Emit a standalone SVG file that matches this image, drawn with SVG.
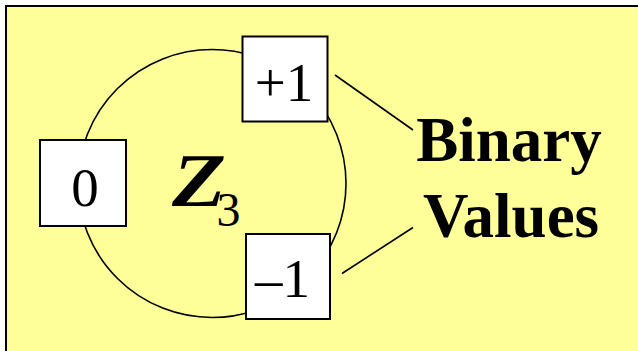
<svg xmlns="http://www.w3.org/2000/svg" width="638" height="351" viewBox="0 0 638 351">
<style>
.box{fill:#ffffff;stroke:#000000;stroke-width:2}
.conn{fill:none;stroke:#000000;stroke-width:1.6}
.num{font-family:"Liberation Serif","Times New Roman",serif;font-size:55px;fill:#000000;text-anchor:middle}
.lbl{font-family:"Liberation Serif","Times New Roman",serif;font-size:63px;font-weight:bold;fill:#000000;text-anchor:middle}
</style>
<rect x="0" y="0" width="638" height="351" fill="#ffffff"/>
<rect id="panel" x="6" y="6" width="640" height="360" fill="#ffff99" stroke="#000000" stroke-width="2"/>
<g id="connectors">
<circle class="conn" cx="212" cy="183.5" r="134"/>
<line class="conn" x1="335" y1="75" x2="413" y2="130"/>
<line class="conn" x1="342" y1="273.5" x2="413" y2="227.5"/>
</g>
<g id="node-zero">
<rect class="box" x="40" y="140" width="86" height="86"/>
<text class="num" x="85" y="206">0</text>
</g>
<g id="node-plus-one">
<rect class="box" x="242.5" y="36.5" width="85" height="85"/>
<text class="num" x="284" y="101">+1</text>
</g>
<g id="node-minus-one">
<rect class="box" x="246" y="234" width="84" height="85"/>
<text class="num" x="282.5" y="296.5">–1</text>
</g>
<g id="label-z3" font-family="'Liberation Serif','Times New Roman',serif" fill="#000000">
<text transform="translate(168,206) skewX(-10) scale(1.06,1)" x="0" y="0" font-size="76" font-weight="bold">Z</text>
<text x="216.5" y="225.5" font-size="48">3</text>
</g>
<g id="label-binary-values">
<text class="lbl" x="509" y="161">Binary</text>
<text class="lbl" x="511" y="236.5">Values</text>
</g>
</svg>
